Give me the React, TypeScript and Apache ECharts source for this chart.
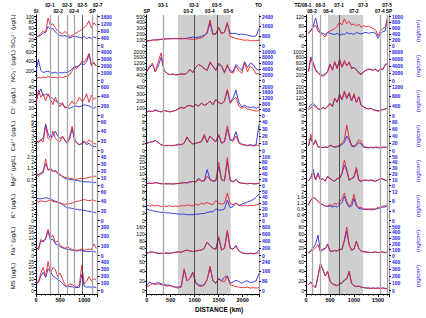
import React, { useEffect, useRef } from 'react';
import * as echarts from 'echarts';

const FONT = 'Arial, "Liberation Sans", "DejaVu Sans", sans-serif';

const leftNames = ['SO₄²⁻ (µg/L)', 'NO₃⁻ (µg/L)', 'Cl⁻ (µg/L)', 'Ca²⁺ (µg/L)', 'Mg²⁺ (µg/L)', 'K⁺ (µg/L)', 'Na⁺ (µg/L)', 'MS (µg/L)'];
const rightName = '(ng/cm²)';

// distances (km)
const dist1 = [0, 50, 100, 150, 200, 250, 300, 350, 400, 450, 500, 550, 600, 650, 700, 750, 800, 850, 900, 950, 1000, 1050, 1100, 1150, 1200, 1250];
const dist2 = [0, 60, 120, 180, 240, 300, 360, 420, 480, 540, 600, 660, 720, 780, 840, 900, 960, 1020, 1080, 1140, 1200, 1260, 1320, 1380, 1440, 1500, 1560, 1620, 1680, 1740, 1800, 1860, 1920, 1980, 2040, 2100, 2160, 2220, 2280, 2340];
const dist3 = [50, 100, 150, 200, 250, 300, 350, 400, 450, 500, 550, 600, 650, 700, 750, 800, 850, 900, 950, 1000, 1050, 1100, 1150, 1200, 1250, 1300, 1350, 1400, 1450, 1500, 1550, 1600, 1650, 1700];

// ---- column 1 (µg/L red, ng/cm2 blue)
const c1SO4 = [30, 32, 42, 50, 45, 95, 70, 75, 60, 50, 45, 40, 48, 42, 30, 35, 40, 45, 50, 55, 62, 70, 85, 60, 78, 70];
const c1SO4f = [480, 500, 560, 700, 720, 1050, 900, 950, 750, 620, 560, 520, 560, 480, 420, 480, 520, 480, 450, 420, 500, 380, 440, 400, 460, 420];
const c1NO3 = [50, 60, 55, 70, 60, 80, 70, 60, 65, 55, 70, 60, 80, 90, 120, 200, 280, 250, 320, 400, 380, 450, 560, 300, 380, 300];
const c1NO3f = [1200, 2900, 1400, 1100, 1200, 1300, 1100, 1050, 1150, 1000, 1100, 1050, 1150, 1100, 1300, 1600, 2000, 1900, 2100, 2300, 2200, 2600, 3600, 2200, 2400, 2000];
const c1Cl = [15, 35, 25, 30, 20, 30, 22, 15, 25, 18, 12, 18, 10, 12, 15, 20, 15, 18, 25, 20, 22, 30, 18, 28, 22, 25];
const c1Clf = [300, 450, 550, 400, 450, 420, 380, 350, 300, 280, 250, 220, 180, 160, 150, 170, 200, 190, 180, 200, 220, 210, 200, 170, 150, 180];
const c1Ca = [2, 1.6, 2.2, 1.8, 5, 2.5, 2, 4, 2.5, 2, 1.8, 3, 2, 1.5, 3, 5, 2.5, 1.5, 1.2, 1.5, 2, 1.5, 2.2, 1.8, 1.5, 1.3];
const c1Caf = [20, 18, 22, 25, 55, 35, 25, 30, 40, 30, 25, 28, 22, 15, 25, 45, 20, 15, 12, 14, 18, 12, 15, 10, 8, 8];
const c1Mg = [1.0, 0.8, 1.0, 1.1, 2.3, 1.3, 1.5, 1.2, 1.3, 1.0, 0.9, 0.8, 0.7, 0.7, 0.6, 0.6, 0.5, 0.55, 0.6, 0.6, 0.6, 0.65, 0.7, 0.75, 0.8, 0.8];
const c1Mgf = [16, 15, 17, 20, 30, 22, 22, 20, 20, 18, 15, 12, 10, 9, 8, 8, 7, 7, 6, 6, 5, 5, 5, 4.5, 4, 4];
const c1K = [3.3, 3.2, 3.4, 3.3, 3.2, 3.4, 3.5, 3.3, 3.2, 3.1, 3.0, 2.9, 2.8, 2.85, 2.9, 3.0, 3.2, 3.3, 3.4, 3.5, 3.6, 3.5, 3.4, 3.5, 3.5, 3.3];
const c1Kf = [46, 45, 45, 46, 47, 46, 44, 42, 40, 38, 36, 33, 30, 26, 26, 25, 24, 23, 22, 22, 21, 20, 19, 18, 17, 16];
const c1Na = [6, 4, 11, 10, 12, 18, 12, 14, 9, 10, 7, 6, 5, 6, 5, 4, 4, 3.5, 4, 4.5, 3.5, 4, 4.5, 4, 8, 5];
const c1Naf = [80, 70, 150, 140, 170, 250, 160, 170, 120, 110, 90, 80, 70, 65, 60, 55, 50, 48, 50, 50, 45, 42, 40, 40, 40, 35];
const c1MS = [8, 7, 15, 20, 12, 25, 15, 20, 18, 12, 15, 10, 5, 3, 6, 5, 4, 3, 5, 22, 6, 8, 12, 8, 10, 9];
const c1MSf = [120, 110, 200, 250, 180, 300, 260, 200, 180, 150, 130, 100, 60, 50, 55, 50, 45, 40, 45, 220, 60, 45, 50, 45, 50, 40];

// ---- column 2
const c2SO4 = [90, 80, 95, 100, 90, 110, 100, 115, 110, 120, 115, 120, 110, 125, 115, 110, 105, 110, 120, 130, 160, 240, 440, 200, 190, 320, 200, 230, 400, 150, 140, 120, 110, 100, 90, 95, 85, 80, 85, 90];
const c2SO4f = [350, 400, 450, 450, 500, 500, 550, 550, 600, 550, 600, 550, 600, 550, 600, 650, 700, 650, 700, 750, 850, 1000, 1900, 900, 1000, 1400, 1000, 1100, 1800, 1000, 1000, 1000, 900, 950, 900, 850, 800, 750, 800, 1400];
const c2NO3 = [600, 1000, 1200, 600, 1300, 1900, 700, 500, 400, 450, 380, 400, 450, 400, 500, 750, 550, 900, 1100, 1000, 800, 700, 1300, 1000, 700, 1200, 1000, 500, 1100, 600, 500, 1000, 700, 500, 1200, 600, 1000, 800, 450, 500];
const c2NO3f = [3000, 4500, 5500, 3000, 5000, 8000, 3500, 2500, 2000, 2200, 2000, 2100, 2300, 2200, 2500, 3800, 2800, 4500, 5500, 5000, 4200, 3500, 6000, 5000, 3500, 5500, 5000, 3000, 5000, 3500, 3000, 5500, 4500, 3500, 6500, 4500, 6000, 5500, 4000, 3500];
const c2Cl = [50, 60, 55, 80, 60, 50, 70, 60, 50, 60, 70, 90, 110, 100, 130, 140, 120, 150, 130, 170, 140, 160, 200, 150, 220, 180, 160, 200, 360, 170, 220, 250, 130, 100, 120, 90, 80, 70, 60, 70];
const c2Clf = [250, 300, 280, 350, 300, 250, 350, 300, 250, 300, 350, 450, 550, 500, 650, 700, 600, 750, 650, 850, 700, 800, 1000, 750, 1100, 900, 800, 1000, 1700, 900, 1200, 1750, 900, 600, 700, 600, 550, 600, 500, 600];
const c2Ca = [2, 2.3, 2.5, 2.8, 2.2, 1.5, 1.4, 1.3, 1.4, 1.3, 1.5, 1.8, 1.6, 2.0, 3.8, 2.5, 1.8, 2.0, 2.2, 2.5, 4.5, 2.2, 4.0, 3.2, 2.5, 4.5, 2.0, 2.5, 6.8, 3.0, 2.5, 4.0, 2.0, 1.6, 1.5, 1.3, 1.5, 1.2, 1.4, 1.5];
const c2Caf = [10, 11, 12, 14, 11, 8, 7, 7, 7, 7, 7, 8, 8, 10, 18, 12, 9, 10, 11, 12, 20, 11, 20, 15, 12, 20, 10, 12, 30, 14, 15, 26, 12, 9, 8, 7, 8, 7, 8, 36];
const c2Mg = [1.5, 2, 1.8, 2.5, 2, 1.5, 1.5, 1.4, 1.5, 1.3, 1.5, 1.8, 2, 2.5, 2.2, 3, 3.5, 3, 5, 4, 4, 8, 5, 4, 4, 20, 5, 4, 24, 4, 3, 5, 2.5, 2, 1.8, 1.5, 1.8, 1.5, 1.4, 2];
const c2Mgf = [6, 8, 7, 10, 8, 6, 6, 6, 6, 5, 6, 7, 8, 10, 9, 12, 14, 12, 25, 16, 16, 55, 20, 16, 16, 65, 20, 16, 85, 18, 14, 22, 10, 8, 7, 6, 7, 6, 6, 8];
const c2K = [4.2, 4.0, 4.3, 4.0, 4.2, 3.8, 4.0, 3.9, 4.1, 3.8, 4.0, 3.9, 4.1, 4.0, 4.3, 4.2, 4.0, 4.5, 4.2, 4.8, 4.5, 5.0, 4.6, 4.4, 5.5, 4.8, 4.5, 4.8, 7.5, 4.6, 4.4, 4.8, 4.2, 4.0, 4.3, 4.0, 4.2, 4.1, 4.3, 4.5];
const c2Kf = [20, 18, 17, 16, 15, 14, 14, 13, 13, 12, 12, 11, 11, 11, 10, 10, 10, 11, 11, 12, 12, 14, 15, 15, 20, 18, 18, 20, 35, 22, 24, 30, 26, 28, 30, 32, 34, 36, 40, 46];
const c2Na = [12, 18, 20, 15, 12, 12, 12, 14, 12, 15, 18, 20, 18, 25, 30, 25, 22, 25, 28, 30, 40, 75, 55, 40, 35, 105, 30, 40, 140, 40, 35, 50, 25, 15, 12, 10, 12, 10, 12, 15];
const c2Naf = [60, 90, 100, 75, 60, 60, 60, 70, 60, 75, 90, 100, 90, 125, 150, 125, 110, 125, 140, 150, 200, 370, 270, 200, 170, 480, 150, 200, 650, 200, 180, 280, 130, 80, 60, 50, 60, 50, 60, 150];
const c2MS = [8, 10, 15, 12, 14, 12, 11, 9, 10, 8, 6, 5, 7, 45, 20, 25, 38, 15, 10, 8, 12, 22, 50, 20, 15, 25, 20, 18, 30, 12, 10, 8, 7, 6, 6, 7, 5, 6, 5, 6];
const c2MSf = [40, 70, 55, 60, 65, 55, 50, 45, 45, 35, 30, 28, 35, 170, 80, 100, 150, 70, 45, 40, 50, 90, 190, 80, 60, 95, 80, 110, 120, 60, 70, 85, 75, 60, 75, 80, 65, 70, 80, 140];

// ---- column 3
const c3SO4 = [50, 65, 75, 85, 60, 50, 45, 35, 55, 60, 65, 70, 80, 95, 85, 110, 90, 100, 85, 90, 80, 88, 75, 82, 78, 80, 75, 70, 65, 40, 60, 70, 75, 115];
const c3SO4f = [420, 500, 650, 950, 600, 450, 420, 380, 450, 420, 400, 380, 420, 350, 400, 380, 450, 400, 420, 380, 450, 420, 400, 430, 450, 420, 440, 460, 420, 250, 400, 480, 500, 950];
const c3NO3 = [300, 750, 550, 350, 250, 180, 150, 200, 300, 550, 350, 650, 400, 750, 450, 700, 500, 650, 400, 450, 350, 250, 200, 300, 350, 400, 380, 350, 400, 300, 420, 380, 550, 600];
const c3NO3f = [2500, 6500, 5000, 3000, 2200, 1600, 1400, 1800, 2500, 4500, 3000, 5000, 3500, 5500, 3800, 5000, 4200, 4800, 3500, 3600, 3000, 2200, 1800, 2400, 2800, 3000, 3000, 2800, 3200, 2500, 3200, 3000, 4200, 4600];
const c3Cl = [40, 50, 70, 60, 45, 40, 55, 45, 60, 80, 60, 120, 90, 150, 110, 170, 120, 160, 100, 150, 90, 130, 70, 60, 50, 45, 50, 40, 35, 30, 35, 40, 45, 50];
const c3Clf = [300, 450, 500, 400, 280, 250, 330, 280, 380, 500, 380, 700, 550, 850, 650, 950, 700, 900, 600, 850, 550, 750, 420, 360, 300, 280, 300, 240, 220, 190, 210, 240, 270, 300];
const c3Ca = [1.2, 4.5, 1.5, 3.0, 1.0, 1.0, 0.8, 1.0, 0.8, 1.5, 1.2, 1.0, 1.2, 1.5, 2.0, 3.0, 7.0, 3.5, 1.5, 1.2, 1.8, 3.0, 2.5, 1.0, 1.0, 0.8, 0.9, 0.8, 1.0, 0.9, 0.8, 1.0, 0.9, 1.0];
const c3Caf = [12, 35, 15, 25, 10, 9, 8, 9, 8, 14, 11, 9, 10, 12, 16, 22, 40, 28, 12, 10, 14, 22, 18, 9, 8, 7, 8, 7, 8, 8, 7, 8, 8, 9];
const c3Mg = [1.2, 2.0, 3.5, 1.5, 3.0, 1.5, 1.8, 1.2, 2.5, 2.0, 1.5, 1.2, 2.0, 2.0, 3.5, 7.0, 4.5, 1.5, 2.0, 2.5, 5.0, 1.5, 1.2, 1.5, 1.5, 1.4, 1.6, 1.4, 1.2, 1.5, 2.0, 1.8, 1.5, 1.4];
const c3Mgf = [8, 14, 28, 10, 22, 10, 12, 8, 15, 12, 9, 7, 12, 12, 20, 35, 25, 9, 12, 14, 28, 9, 7, 9, 9, 8, 9, 8, 7, 9, 12, 11, 9, 8];
const c3K = [1.1, 1.4, 1.6, 1.5, 1.3, 1.2, 1.1, 1.0, 1.0, 1.1, 1.0, 1.2, 1.1, 1.3, 1.5, 1.9, 1.3, 1.0, 1.2, 1.8, 1.1, 0.9, 0.9, 0.8, 0.8, 0.8, 0.8, 0.8, 0.8, 0.9, 0.9, 1.0, 1.0, 1.1];
const c3Kf = [6.5, 8.5, 9.5, 9, 8, 7, 6.5, 6, 5.8, 6, 5.5, 6, 5.5, 6.5, 7.5, 10, 7, 5.5, 6, 9, 6, 5, 4.8, 4.6, 4.5, 4.5, 4.4, 4.5, 4.6, 5, 5.2, 5.5, 5.6, 6];
const c3Na = [5, 12, 15, 22, 30, 10, 15, 18, 30, 12, 12, 14, 12, 18, 16, 45, 78, 30, 15, 18, 40, 20, 12, 10, 10, 9, 8, 9, 10, 8, 9, 10, 8, 10];
const c3Naf = [40, 90, 130, 200, 350, 80, 110, 120, 200, 80, 75, 85, 75, 110, 100, 250, 420, 180, 90, 110, 240, 120, 75, 65, 60, 55, 50, 55, 60, 50, 55, 60, 50, 60];
const c3MS = [12, 16, 10, 6, 30, 56, 45, 30, 40, 20, 14, 12, 10, 14, 16, 22, 25, 40, 15, 10, 8, 9, 7, 6, 5, 5, 4, 5, 4, 5, 4, 5, 4, 3];
const c3MSf = [80, 120, 70, 40, 190, 360, 290, 200, 260, 130, 90, 80, 65, 90, 100, 140, 160, 260, 100, 65, 55, 60, 45, 40, 35, 35, 30, 35, 30, 35, 30, 35, 30, 25];

// axis ranges
const lMax1 = [100, 600, 40, 6, 2.5, 5, 20, 25];
const lStep1 = [20, 200, 10, 1, 0.5, 1, 4, 5];
const rMax1 = [1600, 4000, 600, 60, 40, 60, 300, 400];
const rStep1 = [400, 1000, 200, 20, 10, 20, 100, 100];
const lMax2 = [500, 2000, 400, 8, 25, 8, 160, 60];
const lStep2 = [100, 400, 100, 2, 5, 2, 40, 20];
const rMax2 = [2400, 10000, 2000, 40, 100, 50, 800, 240];
const rStep2 = [800, 2000, 400, 10, 20, 10, 200, 80];
const lMax3 = [120, 1000, 200, 8, 8, 2, 80, 60];
const lStep3 = [40, 200, 40, 2, 2, 0.4, 20, 20];
const rMax3 = [1000, 8000, 1200, 80, 50, 12, 500, 400];
const rStep3 = [200, 2000, 400, 20, 10, 4, 100, 100];

// site markers: [km, name, row, line]
const sites1: [number, string, string, string][] = [
  [0, 'SI', 'B', 'none'], [290, '02-1', 'A', 'gray'], [460, '02-2', 'B', 'gray'], [645, '02-3', 'A', 'gray'],
  [790, '02-4', 'B', 'gray'], [960, '02-5', 'A', 'dark'], [1170, 'SP', 'B', 'gray'], [1280, '02-7', 'A', 'none'],
];
const sites2: [number, string, string, string][] = [
  [0, 'SP', 'B', 'none'], [340, '03-1', 'A', 'gray'], [866, '03-2', 'B', 'none'], [985, '03-3', 'A', 'dark'],
  [1317, '03-4', 'B', 'none'], [1460, '03-5', 'A', 'dark'], [1700, '03-6', 'B', 'none'], [2330, 'TO', 'A', 'none'],
];
const sites3: [number, string, string, string][] = [
  [0, 'TE/08-1', 'A', 'none'], [125, '08-2', 'B', 'gray'], [300, '08-3', 'A', 'gray'], [460, '08-4', 'B', 'none'],
  [690, '07-1', 'A', 'dark'], [1000, '07-2', 'B', 'none'], [1190, '07-3', 'A', 'none'], [1540, '07-4', 'B', 'gray'],
  [1690, '07-5', 'A', 'gray'], [1730, 'SP', 'B', 'none'],
];
const shade2 = [650, 1750];
const shade3 = [460, 1190];

const COLS = [
  { left: 36, width: 61.7, max: 1280, dist: dist1,
    red: [c1SO4, c1NO3, c1Cl, c1Ca, c1Mg, c1K, c1Na, c1MS],
    blue: [c1SO4f, c1NO3f, c1Clf, c1Caf, c1Mgf, c1Kf, c1Naf, c1MSf],
    lMax: lMax1, lStep: lStep1, rMax: rMax1, rStep: rStep1, sites: sites1, shade: null as number[] | null },
  { left: 146.7, width: 112.3, max: 2340, dist: dist2,
    red: [c2SO4, c2NO3, c2Cl, c2Ca, c2Mg, c2K, c2Na, c2MS],
    blue: [c2SO4f, c2NO3f, c2Clf, c2Caf, c2Mgf, c2Kf, c2Naf, c2MSf],
    lMax: lMax2, lStep: lStep2, rMax: rMax2, rStep: rStep2, sites: sites2, shade: shade2 },
  { left: 306, width: 83, max: 1730, dist: dist3,
    red: [c3SO4, c3NO3, c3Cl, c3Ca, c3Mg, c3K, c3Na, c3MS],
    blue: [c3SO4f, c3NO3f, c3Clf, c3Caf, c3Mgf, c3Kf, c3Naf, c3MSf],
    lMax: lMax3, lStep: lStep3, rMax: rMax3, rStep: rStep3, sites: sites3, shade: shade3 },
];

const RED = '#e3232b';
const BLUE = '#2a2ae0';
const plain = (v: number) => String(Math.round(v * 1000) / 1000);

function buildOption() {
  const grid: any[] = [];
  const xAxis: any[] = [];
  const yAxis: any[] = [];
  const series: any[] = [];

  // overlay grids (frame, site lines, shading, distance axis)
  COLS.forEach((c, ci) => {
    grid.push({ left: c.left, width: c.width, top: 15, height: 279 });
    xAxis.push({
      gridIndex: ci, type: 'value', min: 0, max: c.max, interval: 500,
      axisLine: { lineStyle: { color: '#000', width: 1 } },
      axisTick: { length: 3, lineStyle: { color: '#000' } },
      minorTick: { show: true, splitNumber: 5, length: 1.5, lineStyle: { color: '#000' } },
      axisLabel: { fontSize: 5.5, margin: 3, color: '#000', showMaxLabel: false, fontFamily: FONT, fontWeight: 'bold', formatter: plain },
      splitLine: { show: false },
    });
    const yi = yAxis.length;
    yAxis.push({ gridIndex: ci, type: 'value', min: 0, max: 1, axisLine: { show: true, lineStyle: { color: '#000', width: 1 } }, axisTick: { show: false }, axisLabel: { show: false }, splitLine: { show: false } });
    yAxis.push({ gridIndex: ci, type: 'value', position: 'right', min: 0, max: 1, axisLine: { show: true, lineStyle: { color: '#9a9a9a', width: 1.3 } }, axisTick: { show: false }, axisLabel: { show: false }, splitLine: { show: false } });
    series.push({
      type: 'line', xAxisIndex: ci, yAxisIndex: yi, data: [], silent: true, z: 1,
      markArea: c.shade ? { silent: true, itemStyle: { color: '#cfcfcf' }, data: [[{ xAxis: c.shade[0] }, { xAxis: c.shade[1] }]] } : undefined,
      markLine: {
        silent: true, symbol: ['none', 'none'], animation: false,
        data: c.sites.map(([km, name, row, line]) => ({
          xAxis: km,
          lineStyle: {
            type: 'solid',
            color: line === 'dark' ? '#333' : line === 'gray' ? '#a6a6a6' : 'rgba(255,255,255,0)',
            width: line === 'dark' ? 0.8 : 1.3,
          },
          label: {
            show: true, position: 'end', formatter: name, distance: row === 'A' ? 7 : 1,
            padding: name.length > 4 ? [0, 6, 0, 0] : 0,
            fontSize: 4.8, fontWeight: 'bold', color: '#000', fontFamily: FONT,
          },
        })),
      },
    });
  });

  // panels
  COLS.forEach((c, ci) => {
    for (let r = 0; r < 8; r++) {
      const gi = grid.length;
      grid.push({ left: c.left, width: c.width, top: 16.5 + 35 * r, height: 29 });
      xAxis.push({ gridIndex: gi, type: 'value', min: 0, max: c.max, show: false });
      const yl = yAxis.length;
      yAxis.push({
        gridIndex: gi, type: 'value', min: 0, max: c.lMax[r], interval: c.lStep[r],
        axisLine: { show: true, lineStyle: { color: '#000', width: 1 } },
        axisTick: { show: true, length: 2, lineStyle: { color: '#000' } },
        minorTick: { show: true, splitNumber: 2, length: 1, lineStyle: { color: '#000' } },
        axisLabel: { fontSize: 5, margin: 2, color: '#000', fontFamily: FONT, formatter: plain },
        splitLine: { show: false },
        name: ci === 0 ? leftNames[r] : '', nameLocation: 'middle', nameRotate: 90, nameGap: 20,
        nameTextStyle: { fontSize: 6, color: '#000', fontFamily: FONT },
      });
      yAxis.push({
        gridIndex: gi, type: 'value', position: 'right', min: 0, max: c.rMax[r], interval: c.rStep[r],
        axisLine: { show: false },
        axisTick: { show: true, length: 2, lineStyle: { color: '#000' } },
        axisLabel: { fontSize: 5, margin: 3, color: '#1e1ee6', fontWeight: 'bold', fontFamily: FONT, formatter: plain },
        splitLine: { show: false },
        name: ci === 2 ? rightName : '', nameLocation: 'middle', nameRotate: 90, nameGap: 26,
        nameTextStyle: { fontSize: 6, color: '#1e1ee6', fontFamily: FONT },
      });
      series.push({
        type: 'line', xAxisIndex: gi, yAxisIndex: yl + 1, z: 3, symbol: 'none', silent: true,
        lineStyle: { color: BLUE, width: 0.9 },
        data: c.dist.map((d, i) => [d, c.blue[r][i]]),
      });
      series.push({
        type: 'line', xAxisIndex: gi, yAxisIndex: yl, z: 4, symbol: 'none', silent: true,
        lineStyle: { color: RED, width: 0.9 },
        data: c.dist.map((d, i) => [d, c.red[r][i]]),
      });
    }
  });

  return {
    animation: false,
    backgroundColor: '#fff',
    grid, xAxis, yAxis, series,
    graphic: [
      { type: 'text', left: 195, top: 306, style: { text: 'DISTANCE (km)', fontSize: 6.5, fontWeight: 'bold', fill: '#000', fontFamily: FONT } },
    ],
  };
}

export default function App() {
  const ref = useRef<HTMLDivElement>(null);
  useEffect(() => {
    if (!ref.current) return;
    const chart = echarts.init(ref.current, undefined, { renderer: 'svg' });
    chart.setOption(buildOption() as any);
    return () => chart.dispose();
  }, []);
  return <div ref={ref} style={{ position: 'fixed', left: 0, top: 0, width: 426, height: 318, background: '#fff' }} />;
}
